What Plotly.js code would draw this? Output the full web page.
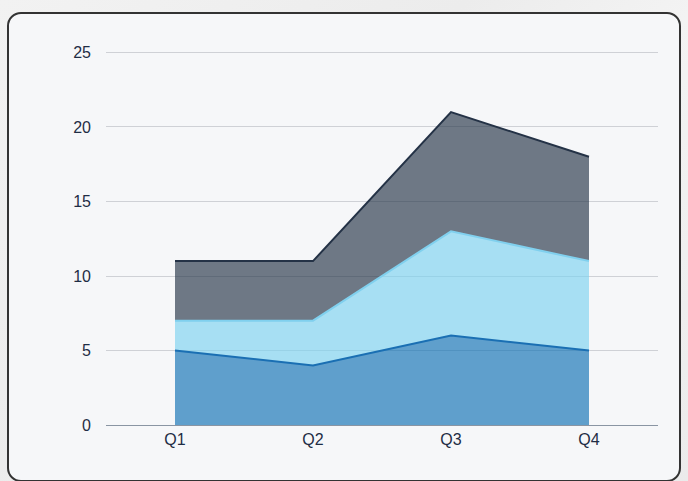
<!DOCTYPE html>
<html>
<head>
<meta charset="utf-8">
<script src="https://cdn.plot.ly/plotly-3.0.1.min.js"></script>
<style>
  html, body { margin: 0; padding: 0; width: 688px; height: 481px; overflow: hidden;
    background: linear-gradient(135deg, #f2f2f2 0%, #ececec 40%, #f3f3f3 60%, #ebebeb 100%); }
  #card { position: absolute; left: 7px; top: 12px; width: 670px; height: 466px;
    border: 2px solid #333333; border-radius: 14px; background: #f6f7f9; }
  #chart { position: absolute; left: 0; top: 0; width: 688px; height: 481px; }
</style>
</head>
<body>
<div id="card"></div>
<div id="chart"></div>
<script>
const categories = ["Q1", "Q2", "Q3", "Q4"];
const seriesA = [5, 4, 6, 5];
const seriesB = [2, 3, 7, 6];
const seriesC = [4, 4, 8, 7];
const yTicks = [0, 5, 10, 15, 20, 25];

const traces = [
  { x: categories, y: seriesA, stackgroup: "one", mode: "lines",
    line: { color: "#1a6fb3", width: 2 }, fillcolor: "rgba(14,112,180,0.65)" },
  { x: categories, y: seriesB, stackgroup: "one", mode: "lines",
    line: { color: "#80d0ee", width: 2 }, fillcolor: "rgba(125,211,240,0.65)" },
  { x: categories, y: seriesC, stackgroup: "one", mode: "lines",
    line: { color: "#243246", width: 2 }, fillcolor: "rgba(37,52,70,0.65)" }
];

const layout = {
  width: 688, height: 481,
  paper_bgcolor: "rgba(0,0,0,0)", plot_bgcolor: "rgba(0,0,0,0)",
  margin: { l: 106, r: 30, t: 51, b: 56 },
  showlegend: false,
  font: { family: "'Liberation Sans', Arial, sans-serif", size: 16, color: "#1f2d45" },
  xaxis: { type: "category", range: [-0.5, 3.5], showgrid: false, zeroline: false,
    showline: true, linecolor: "#8a95a3", linewidth: 1, ticks: "", ticklen: 0,
    tickfont: { size: 16, color: "#1f2d45" } },
  yaxis: { range: [0, 25.1], tickvals: yTicks, showgrid: true, gridcolor: "#cfd1d6",
    gridwidth: 1, zeroline: false, showline: false, ticks: "",
    tickfont: { size: 16, color: "#1f2d45" }, ticklabelstandoff: 14 }
};

Plotly.newPlot("chart", traces, layout, { displayModeBar: false, staticPlot: true });
</script>
</body>
</html>
